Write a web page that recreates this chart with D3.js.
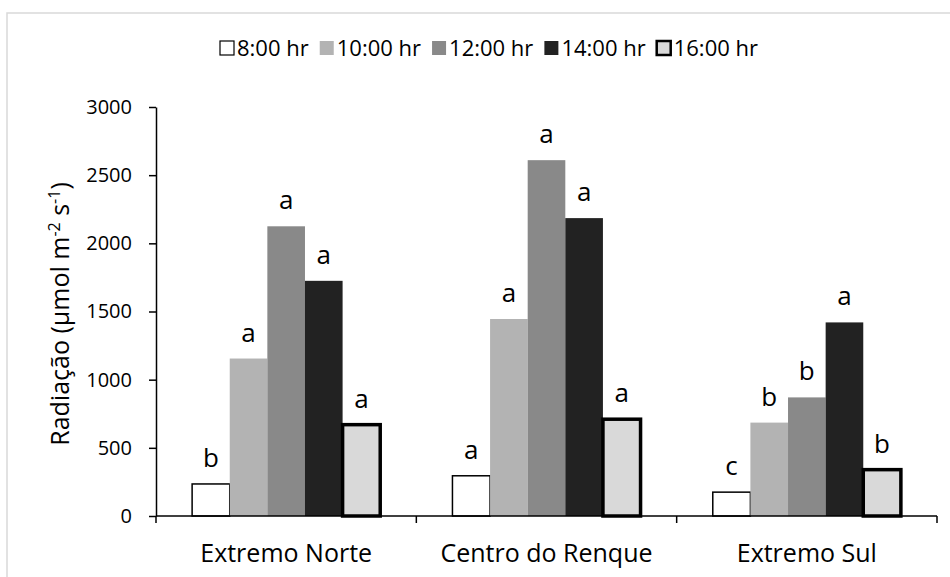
<!DOCTYPE html>
<html>
<head>
<meta charset="utf-8">
<script src="https://cdn.jsdelivr.net/npm/d3@7"></script>
<style>
  body { margin: 0; background: #fff; }
  text { font-family: "Open Sans", "Noto Sans", sans-serif; fill: #000; }
</style>
</head>
<body>
<div id="chart"></div>
<script>
// data
var categories = ["Extremo Norte", "Centro do Renque", "Extremo Sul"];
var series = ["8:00 hr", "10:00 hr", "12:00 hr", "14:00 hr", "16:00 hr"];
var values = [
    [235, 1155, 2125, 1725, 670],
    [295, 1445, 2610, 2185, 710],
    [175, 685, 870, 1420, 340]
];
var letters = [
    ["b", "a", "a", "a", "a"],
    ["a", "a", "a", "a", "a"],
    ["c", "b", "b", "a", "b"]
];
var yTicks = [0, 500, 1000, 1500, 2000, 2500, 3000];

var fills = ["#ffffff", "#b3b3b3", "#898989", "#222222", "#d9d9d9"];
var strokes = ["#000", "none", "none", "none", "#000"];
var strokeW = [1.5, 0, 0, 0, 3.5];

var width = 950;
var height = 577;

var svg = d3.select("#chart").append("svg")
    .attr("width", width)
    .attr("height", height);

// light frame around the chart area
svg.append("rect")
    .attr("x", 7).attr("y", 13)
    .attr("width", width).attr("height", height)
    .attr("fill", "none")
    .attr("stroke", "#d9d9d9")
    .attr("stroke-width", 1.5);

var x0 = d3.scaleBand().domain(categories).range([156, 937]).padding(0);
var x1 = d3.scaleBand().domain(series).range([0, x0.bandwidth()]).paddingInner(0).paddingOuter(0.96);
var y = d3.scaleLinear().domain([0, 3000]).range([516, 107]);

// y axis
var yAxis = svg.append("g")
    .attr("transform", "translate(156,0)")
    .call(d3.axisLeft(y).tickValues(yTicks).tickFormat(d3.format("d"))
        .tickSize(7).tickSizeOuter(0).tickPadding(17));
yAxis.select(".domain").attr("stroke-width", 1.5);
yAxis.selectAll(".tick line").attr("stroke-width", 1.5);
yAxis.selectAll("text").style("font-size", "20px").style("font-family", "Open Sans");

// bars
var groups = svg.selectAll(".grp")
    .data(values)
    .enter().append("g")
    .attr("class", "grp")
    .attr("transform", function (d, i) { return "translate(" + x0(categories[i]) + ",0)"; });

groups.selectAll("rect")
    .data(function (d) { return d; })
    .enter().append("rect")
    .attr("x", function (d, j) { return x1(series[j]); })
    .attr("y", function (d) { return y(d); })
    .attr("width", x1.bandwidth())
    .attr("height", function (d) { return y(0) - y(d); })
    .attr("fill", function (d, j) { return fills[j]; })
    .attr("stroke", function (d, j) { return strokes[j]; })
    .attr("stroke-width", function (d, j) { return strokeW[j]; });

// significance letters
groups.selectAll(".lbl")
    .data(function (d, i) { return d.map(function (v, j) { return { v: v, t: letters[i][j] }; }); })
    .enter().append("text")
    .attr("class", "lbl")
    .attr("x", function (d, j) { return x1(series[j]) + x1.bandwidth() / 2; })
    .attr("y", function (d) { return y(d.v) - 17; })
    .attr("text-anchor", "middle")
    .style("font-size", "26px")
    .text(function (d) { return d.t; });

// x axis: line, boundary ticks, labels
var xAxis = svg.append("g").attr("transform", "translate(0,516)");
xAxis.append("line")
    .attr("x1", 156).attr("x2", 937)
    .attr("stroke", "#000").attr("stroke-width", 1.5);
var bounds = categories.map(function (c) { return x0(c); }).concat([x0.range()[1]]);
xAxis.selectAll(".bt")
    .data(bounds)
    .enter().append("line")
    .attr("x1", function (d) { return d; })
    .attr("x2", function (d) { return d; })
    .attr("y1", 0).attr("y2", 7)
    .attr("stroke", "#000").attr("stroke-width", 1.5);
xAxis.selectAll(".cl")
    .data(categories)
    .enter().append("text")
    .attr("x", function (d) { return x0(d) + x0.bandwidth() / 2; })
    .attr("y", 46)
    .attr("text-anchor", "middle")
    .style("font-size", "25px")
    .text(function (d) { return d; });

// y axis title
var yt = svg.append("text")
    .attr("transform", "translate(69,314) rotate(-90)")
    .attr("text-anchor", "middle")
    .style("font-size", "25px");
yt.append("tspan").text("Radiação (µmol m");
yt.append("tspan").attr("dy", -9).style("font-size", "16px").text("-2");
yt.append("tspan").attr("dy", 9).text(" s");
yt.append("tspan").attr("dy", -9).style("font-size", "16px").text("-1");
yt.append("tspan").attr("dy", 9).text(")");

// legend, laid out left to right from measured text widths
var legStart = 220, legEnd = 758;
var leg = svg.selectAll(".leg")
    .data(series)
    .enter().append("g")
    .attr("class", "leg");
leg.append("rect")
    .attr("x", 0).attr("y", -7)
    .attr("width", 14).attr("height", 14)
    .attr("fill", function (d, j) { return fills[j]; })
    .attr("stroke", function (d, j) { return strokes[j]; })
    .attr("stroke-width", function (d, j) { return j == 4 ? 2.5 : 1.2; });
leg.append("text")
    .attr("x", 17)
    .attr("dy", "0.35em")
    .style("font-size", "22px")
    .text(function (d) { return d; });

var itemW = [];
leg.each(function () { itemW.push(17 + d3.select(this).select("text").node().getComputedTextLength()); });
var gap = (legEnd - legStart - d3.sum(itemW)) / (series.length - 1);
var pos = legStart;
leg.attr("transform", function (d, j) {
    var t = "translate(" + pos + ",48)";
    pos += itemW[j] + gap;
    return t;
});
</script>
</body>
</html>
